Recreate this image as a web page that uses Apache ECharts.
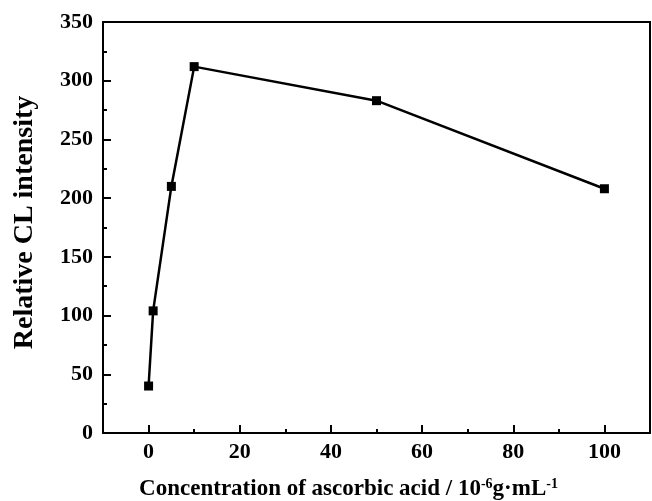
<!DOCTYPE html>
<html>
<head>
<meta charset="utf-8">
<script src="https://cdn.jsdelivr.net/npm/echarts@6/dist/echarts.min.js"></script>
<style>
  html, body { margin: 0; padding: 0; background: #fff; }
  #chart { width: 652px; height: 501px; }
</style>
</head>
<body>
<div id="chart"></div>
<script>
// concentration of ascorbic acid (10^-6 g/mL)
var concentration = [0, 1, 5, 10, 50, 100]
// relative CL intensity
var intensity = [40, 104, 210, 312, 283, 208]
var xMajorTicks = [0, 20, 40, 60, 80, 100]
var xMinorTicks = [10, 30, 50, 70, 90]

var font = 'Liberation Serif'
var chart = echarts.init(document.getElementById('chart'))

var points = []
for (var i = 0; i < concentration.length; i++) {
  points.push([concentration[i], intensity[i]])
}

chart.setOption({
  animation: false,
  grid: {
    left: 103,
    right: 2,
    top: 22,
    bottom: 68,
    outerBoundsMode: 'none',
    show: true,
    borderColor: '#000',
    borderWidth: 2
  },
  xAxis: [
    {
      type: 'value',
      min: -10,
      max: 110,
      name: 'Concentration of ascorbic acid / 10{sup|-6}g·mL{sup|-1}',
      nameLocation: 'middle',
      nameGap: 44,
      nameTextStyle: {
        fontFamily: font,
        fontWeight: 'bold',
        fontSize: 23,
        color: '#000',
        padding: [0, 56, 0, 0],
        rich: {
          sup: {
            fontFamily: font,
            fontWeight: 'bold',
            fontSize: 14,
            color: '#000',
            verticalAlign: 'bottom',
            padding: [0, 0, 11, 0]
          }
        }
      },
      axisLine: { onZero: false, lineStyle: { color: '#000', width: 2 } },
      axisTick: {
        inside: true,
        length: 8,
        customValues: xMajorTicks,
        lineStyle: { color: '#000', width: 2 }
      },
      axisLabel: {
        customValues: xMajorTicks,
        margin: 8,
        fontFamily: font,
        fontWeight: 'bold',
        fontSize: 22,
        color: '#000'
      },
      splitLine: { show: false }
    },
    {
      // second axis only for the short ticks between labels
      type: 'value',
      position: 'bottom',
      min: -10,
      max: 110,
      axisLine: { show: false, onZero: false },
      axisTick: {
        inside: true,
        length: 4,
        customValues: xMinorTicks,
        lineStyle: { color: '#000', width: 2 }
      },
      axisLabel: { show: false },
      splitLine: { show: false }
    }
  ],
  yAxis: {
    type: 'value',
    min: 0,
    max: 350,
    interval: 50,
    name: 'Relative CL intensity',
    nameLocation: 'middle',
    nameGap: 64,
    nameTextStyle: {
      fontFamily: font,
      fontWeight: 'bold',
      fontSize: 28,
      color: '#000',
      padding: [0, 0, 0, 10]
    },
    axisLine: { show: true, onZero: false, lineStyle: { color: '#000', width: 2 } },
    axisTick: {
      show: true,
      inside: true,
      length: 8,
      lineStyle: { color: '#000', width: 2 }
    },
    minorTick: {
      show: true,
      splitNumber: 2,
      length: 4,
      lineStyle: { color: '#000', width: 2 }
    },
    axisLabel: {
      margin: 10,
      fontFamily: font,
      fontWeight: 'bold',
      fontSize: 22,
      color: '#000'
    },
    splitLine: { show: false }
  },
  series: [
    {
      type: 'line',
      data: points,
      symbol: 'rect',
      symbolSize: 9,
      lineStyle: { color: '#000', width: 2.5 },
      itemStyle: { color: '#000' }
    }
  ]
})
</script>
</body>
</html>
